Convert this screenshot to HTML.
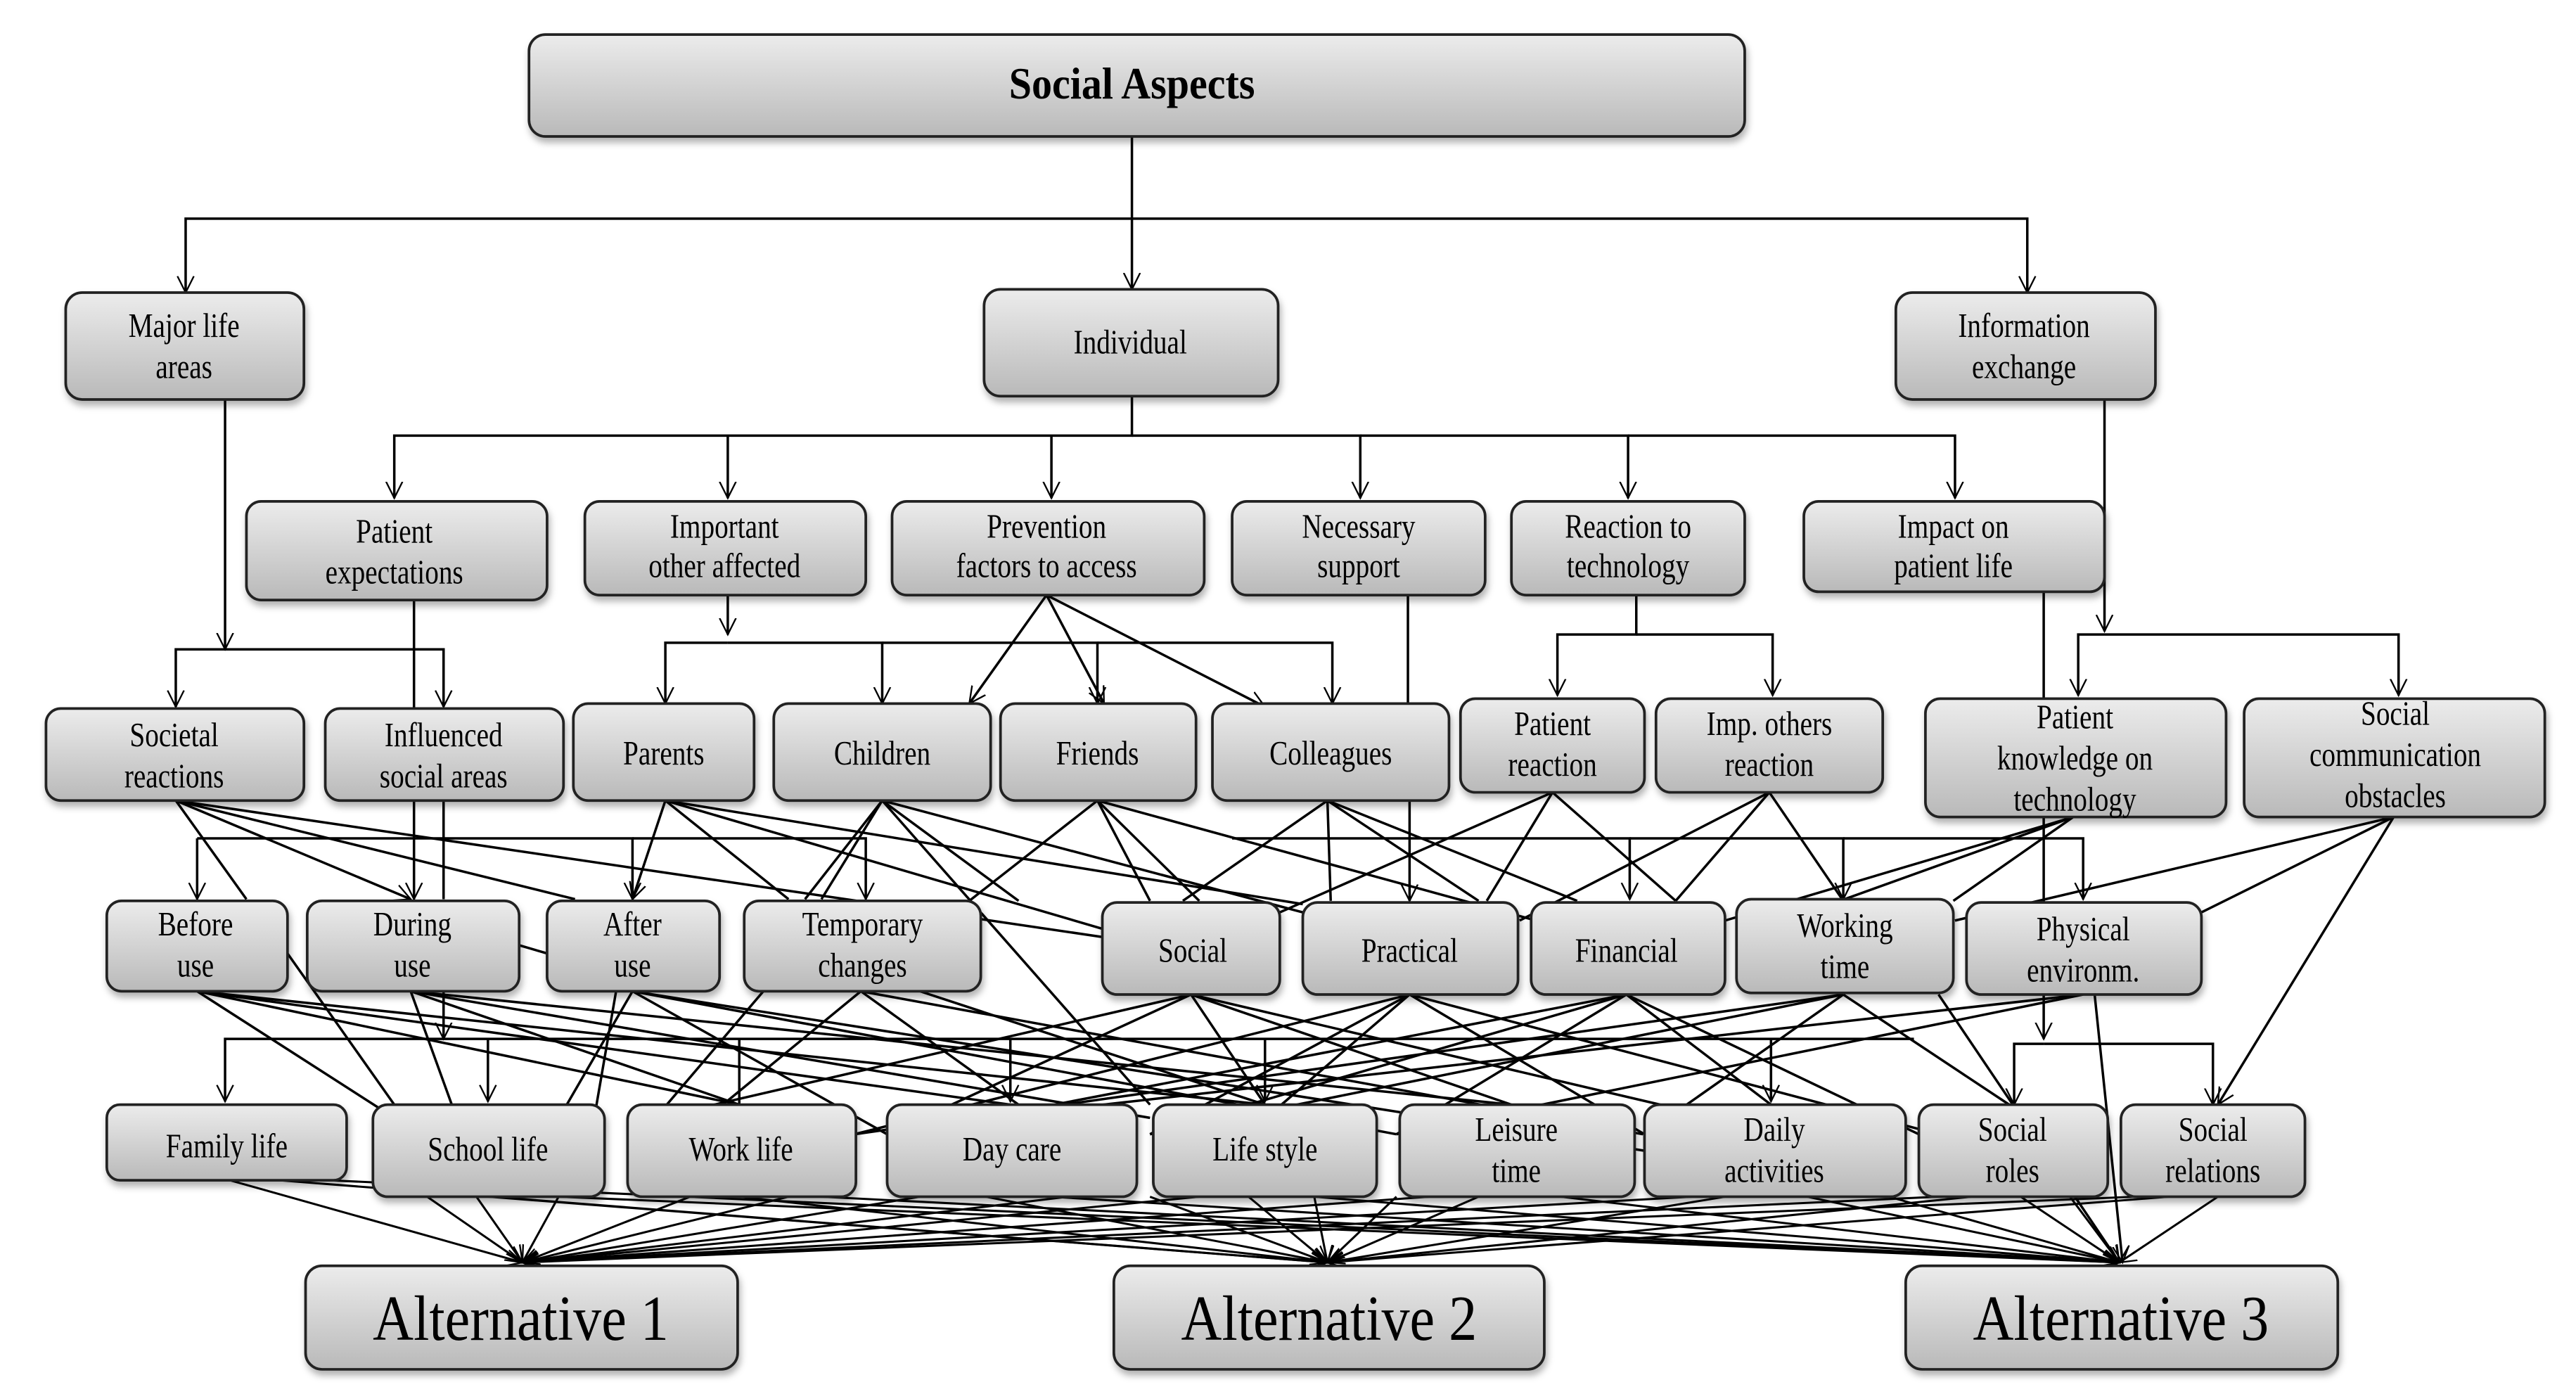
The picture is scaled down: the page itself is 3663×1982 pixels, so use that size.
<!DOCTYPE html>
<html><head><meta charset="utf-8"><style>
html,body{margin:0;padding:0;background:#fff;}
svg{display:block;}
text{font-family:"Liberation Serif",serif;fill:#000;}
</style></head><body>
<svg width="3663" height="1982" viewBox="0 0 1568 848" preserveAspectRatio="none" xmlns="http://www.w3.org/2000/svg">
<defs>
<linearGradient id="g" x1="0" y1="0" x2="0" y2="1"><stop offset="0" stop-color="#ececec"/><stop offset="1" stop-color="#b9b9b9"/></linearGradient>
<marker id="a" markerWidth="12" markerHeight="12" refX="10" refY="6" orient="auto" markerUnits="userSpaceOnUse"><path d="M0,1 L10,6 L0,11" fill="none" stroke="#000" stroke-width="1"/></marker>
<filter id="s" x="-10%" y="-10%" width="120%" height="140%"><feDropShadow dx="1" dy="3" stdDeviation="2" flood-color="#000" flood-opacity="0.3"/></filter>
</defs>
<g stroke="#000" stroke-width="1.5" fill="none" marker-end="url(#a)">
<line x1="689" y1="83" x2="689" y2="176"/>
<polyline points="689,133 113,133 113,178"/>
<polyline points="689,133 1234,133 1234,178"/>
<polyline points="689,241 689,265 240,265 240,303"/>
<polyline points="443,265 443,303"/>
<polyline points="640,265 640,303"/>
<polyline points="689,265 828,265 828,303"/>
<polyline points="828,265 991,265 991,303"/>
<polyline points="991,265 1190,265 1190,303"/>
<line x1="137" y1="243" x2="137" y2="395"/>
<polyline points="137,395 107,395 107,430"/>
<polyline points="137,395 270,395 270,430"/>
<line x1="252" y1="365" x2="252" y2="547"/>
<line x1="443" y1="362" x2="443" y2="386"/>
<polyline points="443,391 405,391 405,428"/>
<polyline points="443,391 537,391 537,428"/>
<polyline points="537,391 668,391 668,428"/>
<polyline points="668,391 811,391 811,428"/>
<line x1="637" y1="362" x2="590" y2="428"/>
<line x1="637" y1="362" x2="672" y2="428"/>
<line x1="637" y1="362" x2="770" y2="430"/>
<line x1="857" y1="362" x2="857" y2="430" marker-end="none"/>
<polyline points="996,362 996,386 948,386 948,423"/>
<polyline points="996,386 1079,386 1079,423"/>
<line x1="1281" y1="243" x2="1281" y2="384"/>
<polyline points="1281,386 1265,386 1265,423"/>
<polyline points="1281,386 1460,386 1460,423"/>
<line x1="1244" y1="360" x2="1244" y2="425" marker-end="none"/>
<polyline points="120,510 120,547"/>
<polyline points="120,510 385,510 385,547"/>
<polyline points="385,510 527,510 527,547"/>
<polyline points="750,510 992,510 992,547"/>
<polyline points="992,510 1122,510 1122,547"/>
<polyline points="1122,510 1268,510 1268,547"/>
<line x1="107" y1="487" x2="150" y2="547" marker-end="none"/>
<line x1="107" y1="487" x2="250" y2="547"/>
<line x1="107" y1="487" x2="350" y2="547" marker-end="none"/>
<line x1="107" y1="487" x2="671" y2="570" marker-end="none"/>
<line x1="270" y1="487" x2="270" y2="547" marker-end="none"/>
<line x1="405" y1="487" x2="385" y2="547"/>
<line x1="405" y1="487" x2="480" y2="547" marker-end="none"/>
<line x1="405" y1="487" x2="671" y2="565" marker-end="none"/>
<line x1="405" y1="487" x2="793" y2="550" marker-end="none"/>
<line x1="537" y1="487" x2="490" y2="547" marker-end="none"/>
<line x1="537" y1="487" x2="500" y2="547" marker-end="none"/>
<line x1="537" y1="487" x2="620" y2="548" marker-end="none"/>
<line x1="537" y1="487" x2="700" y2="672" marker-end="none"/>
<line x1="537" y1="487" x2="793" y2="555" marker-end="none"/>
<line x1="668" y1="487" x2="700" y2="548" marker-end="none"/>
<line x1="668" y1="487" x2="590" y2="548" marker-end="none"/>
<line x1="668" y1="487" x2="730" y2="548" marker-end="none"/>
<line x1="668" y1="487" x2="935" y2="560" marker-end="none"/>
<line x1="808" y1="487" x2="720" y2="548" marker-end="none"/>
<line x1="808" y1="487" x2="810" y2="548" marker-end="none"/>
<line x1="808" y1="487" x2="960" y2="548" marker-end="none"/>
<line x1="808" y1="487" x2="900" y2="548" marker-end="none"/>
<line x1="858" y1="430" x2="858" y2="548"/>
<line x1="945" y1="482" x2="905" y2="548" marker-end="none"/>
<line x1="945" y1="482" x2="779" y2="555" marker-end="none"/>
<line x1="945" y1="482" x2="1020" y2="548" marker-end="none"/>
<line x1="1077" y1="482" x2="1020" y2="548" marker-end="none"/>
<line x1="1077" y1="482" x2="1122" y2="548" marker-end="none"/>
<line x1="1077" y1="482" x2="925" y2="560" marker-end="none"/>
<line x1="1262" y1="497" x2="1050" y2="560" marker-end="none"/>
<line x1="1262" y1="497" x2="1189" y2="548" marker-end="none"/>
<line x1="1262" y1="497" x2="1120" y2="548" marker-end="none"/>
<line x1="1457" y1="497" x2="1340" y2="555" marker-end="none"/>
<line x1="1457" y1="497" x2="1350" y2="672"/>
<line x1="1457" y1="497" x2="1190" y2="560" marker-end="none"/>
<polyline points="1165,632 137,632 137,670"/>
<polyline points="297,632 297,670"/>
<line x1="270" y1="603" x2="270" y2="632"/>
<line x1="450" y1="632" x2="450" y2="672" marker-end="none"/>
<line x1="615" y1="632" x2="615" y2="670"/>
<line x1="770" y1="632" x2="770" y2="670"/>
<line x1="1078" y1="632" x2="1078" y2="670"/>
<polyline points="1244,497 1244,632"/>
<polyline points="1244,635 1226,635 1226,672"/>
<polyline points="1244,635 1347,635 1347,672"/>
<line x1="120" y1="603" x2="240" y2="680" marker-end="none"/>
<line x1="120" y1="603" x2="450" y2="672" marker-end="none"/>
<line x1="120" y1="603" x2="615" y2="672" marker-end="none"/>
<line x1="120" y1="603" x2="770" y2="672" marker-end="none"/>
<line x1="175" y1="580" x2="240" y2="672" marker-end="none"/>
<line x1="250" y1="603" x2="275" y2="672" marker-end="none"/>
<line x1="250" y1="603" x2="450" y2="672" marker-end="none"/>
<line x1="250" y1="603" x2="700" y2="680" marker-end="none"/>
<line x1="250" y1="603" x2="920" y2="672" marker-end="none"/>
<line x1="316" y1="575" x2="333" y2="580" marker-end="none"/>
<line x1="385" y1="603" x2="345" y2="672" marker-end="none"/>
<line x1="375" y1="603" x2="360" y2="690" marker-end="none"/>
<line x1="385" y1="603" x2="540" y2="690" marker-end="none"/>
<line x1="385" y1="603" x2="850" y2="690" marker-end="none"/>
<line x1="385" y1="603" x2="1001" y2="700" marker-end="none"/>
<line x1="480" y1="585" x2="382" y2="700" marker-end="none"/>
<line x1="524" y1="603" x2="440" y2="672" marker-end="none"/>
<line x1="524" y1="603" x2="620" y2="672" marker-end="none"/>
<line x1="560" y1="603" x2="770" y2="672" marker-end="none"/>
<line x1="524" y1="603" x2="1000" y2="690" marker-end="none"/>
<line x1="725" y1="605" x2="540" y2="690" marker-end="none"/>
<line x1="725" y1="605" x2="770" y2="672" marker-end="none"/>
<line x1="725" y1="605" x2="920" y2="672" marker-end="none"/>
<line x1="725" y1="605" x2="1130" y2="700" marker-end="none"/>
<line x1="725" y1="605" x2="400" y2="680" marker-end="none"/>
<line x1="858" y1="605" x2="700" y2="690" marker-end="none"/>
<line x1="858" y1="605" x2="780" y2="672" marker-end="none"/>
<line x1="858" y1="605" x2="1001" y2="690" marker-end="none"/>
<line x1="858" y1="605" x2="1180" y2="690" marker-end="none"/>
<line x1="858" y1="605" x2="520" y2="690" marker-end="none"/>
<line x1="990" y1="605" x2="850" y2="690" marker-end="none"/>
<line x1="990" y1="605" x2="760" y2="672" marker-end="none"/>
<line x1="990" y1="605" x2="1078" y2="672" marker-end="none"/>
<line x1="990" y1="605" x2="1168" y2="690" marker-end="none"/>
<line x1="990" y1="605" x2="600" y2="680" marker-end="none"/>
<line x1="1122" y1="605" x2="520" y2="690" marker-end="none"/>
<line x1="1122" y1="605" x2="700" y2="690" marker-end="none"/>
<line x1="1122" y1="605" x2="1001" y2="690" marker-end="none"/>
<line x1="1122" y1="605" x2="1223" y2="672" marker-end="none"/>
<line x1="1268" y1="605" x2="600" y2="680" marker-end="none"/>
<line x1="1268" y1="605" x2="850" y2="690" marker-end="none"/>
<line x1="1180" y1="605" x2="1290" y2="768"/>
<line x1="1275" y1="605" x2="1292" y2="768"/>
<g stroke-width="1.3">
<line x1="140" y1="718" x2="318" y2="768"/>
<line x1="260" y1="728" x2="318" y2="768"/>
<line x1="290" y1="728" x2="318" y2="768"/>
<line x1="340" y1="728" x2="318" y2="768"/>
<line x1="420" y1="728" x2="318" y2="768"/>
<line x1="480" y1="728" x2="318" y2="768"/>
<line x1="560" y1="728" x2="318" y2="768"/>
<line x1="650" y1="728" x2="318" y2="768"/>
<line x1="730" y1="728" x2="318" y2="768"/>
<line x1="870" y1="728" x2="318" y2="768"/>
<line x1="1030" y1="728" x2="318" y2="768"/>
<line x1="1180" y1="728" x2="318" y2="768"/>
<line x1="1300" y1="728" x2="318" y2="768"/>
<line x1="170" y1="718" x2="808" y2="768"/>
<line x1="300" y1="728" x2="808" y2="768"/>
<line x1="450" y1="728" x2="808" y2="768"/>
<line x1="600" y1="728" x2="808" y2="768"/>
<line x1="700" y1="728" x2="808" y2="768"/>
<line x1="760" y1="728" x2="808" y2="768"/>
<line x1="800" y1="728" x2="808" y2="768"/>
<line x1="850" y1="728" x2="808" y2="768"/>
<line x1="900" y1="728" x2="808" y2="768"/>
<line x1="1050" y1="728" x2="808" y2="768"/>
<line x1="1200" y1="728" x2="808" y2="768"/>
<line x1="1320" y1="728" x2="808" y2="768"/>
<line x1="200" y1="718" x2="1290" y2="768"/>
<line x1="340" y1="728" x2="1290" y2="768"/>
<line x1="500" y1="728" x2="1290" y2="768"/>
<line x1="640" y1="728" x2="1290" y2="768"/>
<line x1="800" y1="728" x2="1290" y2="768"/>
<line x1="950" y1="728" x2="1290" y2="768"/>
<line x1="1100" y1="728" x2="1290" y2="768"/>
<line x1="1150" y1="728" x2="1290" y2="768"/>
<line x1="1230" y1="728" x2="1290" y2="768"/>
<line x1="1260" y1="728" x2="1290" y2="768"/>
<line x1="1350" y1="728" x2="1290" y2="768"/>
</g>
</g>
<g fill="url(#g)" stroke="#222" stroke-width="1.6" filter="url(#s)">
<rect x="322" y="21" width="740" height="62" rx="10"/>
<rect x="40" y="178" width="145" height="65" rx="10"/>
<rect x="599" y="176" width="179" height="65" rx="10"/>
<rect x="1154" y="178" width="158" height="65" rx="10"/>
<rect x="150" y="305" width="183" height="60" rx="9"/>
<rect x="356" y="305" width="171" height="57" rx="9"/>
<rect x="543" y="305" width="190" height="57" rx="9"/>
<rect x="750" y="305" width="154" height="57" rx="9"/>
<rect x="920" y="305" width="142" height="57" rx="9"/>
<rect x="1098" y="305" width="183" height="55" rx="9"/>
<rect x="28" y="431" width="157" height="56" rx="9"/>
<rect x="198" y="431" width="145" height="56" rx="9"/>
<rect x="349" y="428" width="110" height="59" rx="9"/>
<rect x="471" y="428" width="132" height="59" rx="9"/>
<rect x="609" y="428" width="119" height="59" rx="9"/>
<rect x="738" y="428" width="144" height="59" rx="9"/>
<rect x="889" y="425" width="112" height="57" rx="9"/>
<rect x="1008" y="425" width="138" height="57" rx="9"/>
<rect x="1172" y="425" width="183" height="72" rx="9"/>
<rect x="1366" y="425" width="183" height="72" rx="9"/>
<rect x="65" y="548" width="110" height="55" rx="9"/>
<rect x="187" y="548" width="129" height="55" rx="9"/>
<rect x="333" y="548" width="105" height="55" rx="9"/>
<rect x="453" y="548" width="144" height="55" rx="9"/>
<rect x="671" y="549" width="108" height="56" rx="9"/>
<rect x="793" y="549" width="131" height="56" rx="9"/>
<rect x="932" y="549" width="118" height="56" rx="9"/>
<rect x="1057" y="547" width="132" height="57" rx="9"/>
<rect x="1197" y="549" width="143" height="56" rx="9"/>
<rect x="65" y="672" width="146" height="46" rx="8"/>
<rect x="227" y="672" width="141" height="56" rx="9"/>
<rect x="382" y="672" width="139" height="56" rx="9"/>
<rect x="540" y="672" width="152" height="56" rx="9"/>
<rect x="702" y="672" width="136" height="56" rx="9"/>
<rect x="852" y="672" width="143" height="56" rx="9"/>
<rect x="1001" y="672" width="159" height="56" rx="9"/>
<rect x="1168" y="672" width="115" height="56" rx="9"/>
<rect x="1291" y="672" width="112" height="56" rx="9"/>
<rect x="186" y="770" width="263" height="63" rx="10"/>
<rect x="678" y="770" width="262" height="63" rx="10"/>
<rect x="1160" y="770" width="263" height="63" rx="10"/>
</g>
<g text-anchor="middle" font-size="21">
<text transform="translate(689,60) scale(0.92,1)" font-weight="bold" font-size="27">Social Aspects</text>
<text transform="translate(112,205) scale(0.8,1)">Major life</text><text transform="translate(112,230) scale(0.8,1)">areas</text>
<text transform="translate(688,215) scale(0.8,1)">Individual</text>
<text transform="translate(1232,205) scale(0.8,1)">Information</text><text transform="translate(1232,230) scale(0.8,1)">exchange</text>
<text transform="translate(240,330) scale(0.8,1)">Patient</text><text transform="translate(240,355) scale(0.8,1)">expectations</text>
<text transform="translate(441,327) scale(0.8,1)">Important</text><text transform="translate(441,351) scale(0.8,1)">other affected</text>
<text transform="translate(637,327) scale(0.8,1)">Prevention</text><text transform="translate(637,351) scale(0.8,1)">factors to access</text>
<text transform="translate(827,327) scale(0.8,1)">Necessary</text><text transform="translate(827,351) scale(0.8,1)">support</text>
<text transform="translate(991,327) scale(0.8,1)">Reaction to</text><text transform="translate(991,351) scale(0.8,1)">technology</text>
<text transform="translate(1189,327) scale(0.8,1)">Impact on</text><text transform="translate(1189,351) scale(0.8,1)">patient life</text>
<text transform="translate(106,454) scale(0.8,1)">Societal</text><text transform="translate(106,479) scale(0.8,1)">reactions</text>
<text transform="translate(270,454) scale(0.8,1)">Influenced</text><text transform="translate(270,479) scale(0.8,1)">social areas</text>
<text transform="translate(404,465) scale(0.8,1)">Parents</text>
<text transform="translate(537,465) scale(0.8,1)">Children</text>
<text transform="translate(668,465) scale(0.8,1)">Friends</text>
<text transform="translate(810,465) scale(0.8,1)">Colleagues</text>
<text transform="translate(945,447) scale(0.8,1)">Patient</text><text transform="translate(945,472) scale(0.8,1)">reaction</text>
<text transform="translate(1077,447) scale(0.8,1)">Imp. others</text><text transform="translate(1077,472) scale(0.8,1)">reaction</text>
<text transform="translate(1263,443) scale(0.8,1)">Patient</text><text transform="translate(1263,468) scale(0.8,1)">knowledge on</text><text transform="translate(1263,493) scale(0.8,1)">technology</text>
<text transform="translate(1458,441) scale(0.8,1)">Social</text><text transform="translate(1458,466) scale(0.8,1)">communication</text><text transform="translate(1458,491) scale(0.8,1)">obstacles</text>
<text transform="translate(119,569) scale(0.8,1)">Before</text><text transform="translate(119,594) scale(0.8,1)">use</text>
<text transform="translate(251,569) scale(0.8,1)">During</text><text transform="translate(251,594) scale(0.8,1)">use</text>
<text transform="translate(385,569) scale(0.8,1)">After</text><text transform="translate(385,594) scale(0.8,1)">use</text>
<text transform="translate(525,569) scale(0.8,1)">Temporary</text><text transform="translate(525,594) scale(0.8,1)">changes</text>
<text transform="translate(726,585) scale(0.8,1)">Social</text>
<text transform="translate(858,585) scale(0.8,1)">Practical</text>
<text transform="translate(990,585) scale(0.8,1)">Financial</text>
<text transform="translate(1123,570) scale(0.8,1)">Working</text><text transform="translate(1123,595) scale(0.8,1)">time</text>
<text transform="translate(1268,572) scale(0.8,1)">Physical</text><text transform="translate(1268,597) scale(0.8,1)">environm.</text>
<text transform="translate(138,704) scale(0.8,1)">Family life</text>
<text transform="translate(297,706) scale(0.8,1)">School life</text>
<text transform="translate(451,706) scale(0.8,1)">Work life</text>
<text transform="translate(616,706) scale(0.8,1)">Day care</text>
<text transform="translate(770,706) scale(0.8,1)">Life style</text>
<text transform="translate(923,694) scale(0.8,1)">Leisure</text><text transform="translate(923,719) scale(0.8,1)">time</text>
<text transform="translate(1080,694) scale(0.8,1)">Daily</text><text transform="translate(1080,719) scale(0.8,1)">activities</text>
<text transform="translate(1225,694) scale(0.8,1)">Social</text><text transform="translate(1225,719) scale(0.8,1)">roles</text>
<text transform="translate(1347,694) scale(0.8,1)">Social</text><text transform="translate(1347,719) scale(0.8,1)">relations</text>
<text transform="translate(317,815) scale(0.88,1)" font-size="39">Alternative 1</text>
<text transform="translate(809,815) scale(0.88,1)" font-size="39">Alternative 2</text>
<text transform="translate(1291,815) scale(0.88,1)" font-size="39">Alternative 3</text>
</g>
</svg>
</body></html>
